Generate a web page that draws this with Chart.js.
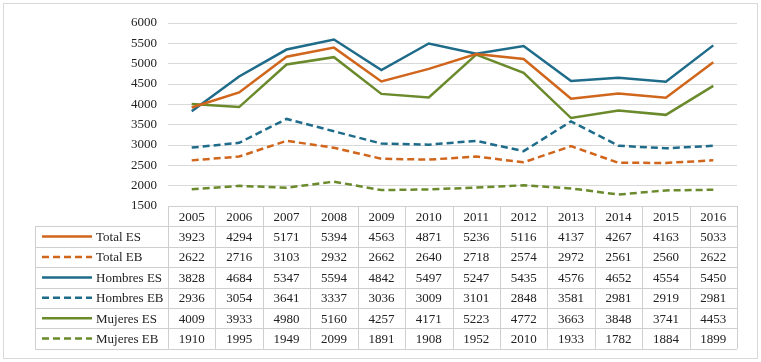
<!DOCTYPE html>
<html>
<head>
<meta charset="utf-8">
<script src="https://cdn.jsdelivr.net/npm/chart.js@4/dist/chart.umd.min.js"></script>
<style>
  html, body { margin: 0; padding: 0; background: #fff; }
  #wrap { width: 761px; height: 362px; }
</style>
</head>
<body>
<div id="wrap"><canvas id="myChart"></canvas></div>
<script>
const years = ['2005', '2006', '2007', '2008', '2009', '2010', '2011', '2012', '2013', '2014', '2015', '2016'];
const totalES = [3923, 4294, 5171, 5394, 4563, 4871, 5236, 5116, 4137, 4267, 4163, 5033];
const totalEB = [2622, 2716, 3103, 2932, 2662, 2640, 2718, 2574, 2972, 2561, 2560, 2622];
const hombresES = [3828, 4684, 5347, 5594, 4842, 5497, 5247, 5435, 4576, 4652, 4554, 5450];
const hombresEB = [2936, 3054, 3641, 3337, 3036, 3009, 3101, 2848, 3581, 2981, 2919, 2981];
const mujeresES = [4009, 3933, 4980, 5160, 4257, 4171, 5223, 4772, 3663, 3848, 3741, 4453];
const mujeresEB = [1910, 1995, 1949, 2099, 1891, 1908, 1952, 2010, 1933, 1782, 1884, 1899];
const seriesNames = ['Total ES', 'Total EB', 'Hombres ES', 'Hombres EB', 'Mujeres ES', 'Mujeres EB'];
const yMin = 1500, yMax = 6000, yStep = 500;

const ORANGE = '#d0651c', BLUE = '#1e6b8a', GREEN = '#6a8a2c';
const FONT = "'Liberation Serif', 'Times New Roman', serif";

function serie(label, data, color, dashed) {
    return {
        label: label,
        data: data,
        borderColor: color,
        backgroundColor: color,
        borderWidth: 2.5,
        borderDash: dashed ? [7, 4] : [],
        pointRadius: 0,
        tension: 0,
        fill: false
    };
}

// tabla de datos debajo del grafico
const tablaPlugin = {
    id: 'tabla',
    beforeDraw(chart) {
        const c = chart.ctx;
        c.save();
        c.fillStyle = '#fff';
        c.fillRect(0, 0, chart.width, chart.height);
        c.strokeStyle = '#d9d9d9';
        c.lineWidth = 1;
        c.strokeRect(3.5, 3.5, chart.width - 7, chart.height - 7);
        c.restore();
    },
    afterDraw(chart) {
        const c = chart.ctx;
        const x = chart.scales.x;
        const area = chart.chartArea;
        const colW = (area.right - area.left) / years.length;
        const rowH = 20.4;
        const top = area.bottom;
        const legLeft = 35;
        const ds = chart.data.datasets;
        c.save();
        c.strokeStyle = '#cfcfcf';
        c.lineWidth = 1;
        // bordes
        c.beginPath();
        for (let r = 0; r <= ds.length + 1; r++) {
            const y = Math.round(top + r * rowH) + 0.5;
            c.moveTo(r === 0 ? area.left : legLeft, y);
            c.lineTo(area.right, y);
        }
        for (let i = 0; i <= years.length; i++) {
            const xx = Math.round(area.left + i * colW) + 0.5;
            c.moveTo(xx, top);
            c.lineTo(xx, top + (ds.length + 1) * rowH);
        }
        c.moveTo(legLeft + 0.5, top + rowH);
        c.lineTo(legLeft + 0.5, top + (ds.length + 1) * rowH);
        c.stroke();

        c.font = '13px ' + FONT;
        c.fillStyle = '#222';
        c.textAlign = 'center';
        c.textBaseline = 'middle';
        years.forEach((yr, i) => {
            c.fillText(yr, x.getPixelForValue(i), top + rowH / 2 + 1);
        });
        ds.forEach((d, r) => {
            const cy = top + (r + 1.5) * rowH + 1;
            c.textAlign = 'center';
            c.fillStyle = '#222';
            d.data.forEach((v, i) => {
                c.fillText(String(v), x.getPixelForValue(i), cy);
            });
            c.textAlign = 'left';
            c.fillText(d.label, 96, cy);
            c.beginPath();
            c.strokeStyle = d.borderColor;
            c.lineWidth = 2.5;
            c.setLineDash(d.borderDash);
            c.moveTo(42, cy - 1);
            c.lineTo(92, cy - 1);
            c.stroke();
            c.setLineDash([]);
        });
        c.restore();
    }
};

document.addEventListener('DOMContentLoaded', (event) => {
    const ctx = document.getElementById('myChart').getContext('2d');
    const myChart = new Chart(ctx, {
        type: 'line',
        data: {
            labels: years,
            datasets: [
                serie(seriesNames[0], totalES, ORANGE, false),
                serie(seriesNames[1], totalEB, ORANGE, true),
                serie(seriesNames[2], hombresES, BLUE, false),
                serie(seriesNames[3], hombresEB, BLUE, true),
                serie(seriesNames[4], mujeresES, GREEN, false),
                serie(seriesNames[5], mujeresEB, GREEN, true)
            ]
        },
        options: {
            responsive: true,
            maintainAspectRatio: false,
            animation: false,
            layout: {
                padding: { top: 23, right: 24, bottom: 156, left: 0 }
            },
            scales: {
                x: {
                    type: 'category',
                    display: false,
                    offset: true
                },
                y: {
                    min: yMin,
                    max: yMax,
                    afterFit: (s) => { s.width = 168; },
                    border: { display: false },
                    grid: { color: '#d9d9d9', lineWidth: 1, drawTicks: false },
                    ticks: {
                        stepSize: yStep,
                        padding: 11,
                        color: '#222',
                        font: { family: FONT, size: 13 },
                        callback: (v) => String(v)
                    }
                }
            },
            plugins: {
                legend: { display: false },
                tooltip: { enabled: false }
            }
        },
        plugins: [tablaPlugin]
    });
});
</script>
</body>
</html>
